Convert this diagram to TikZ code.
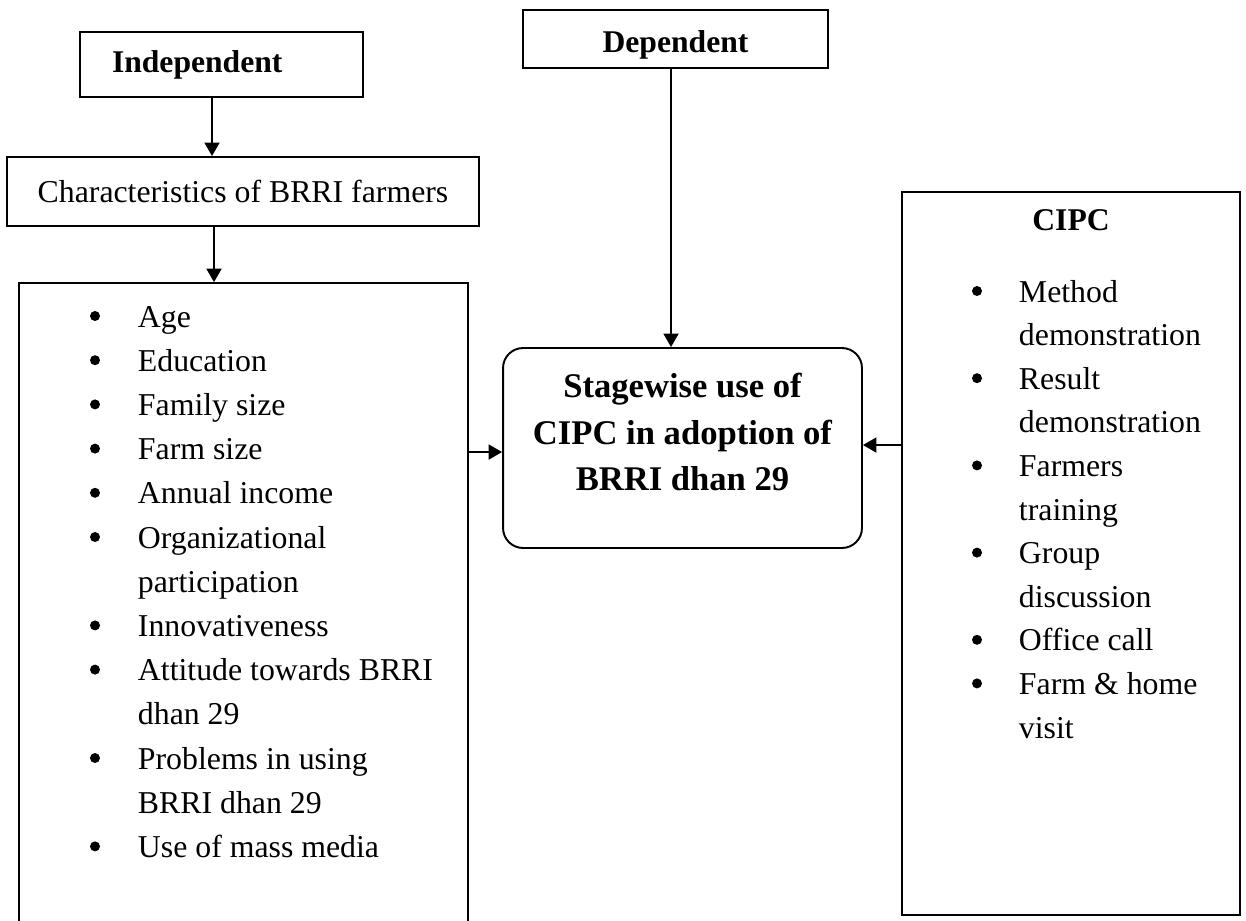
\documentclass[tikz,border=0pt]{standalone}
\usepackage{fontspec}
\setmainfont{Liberation Serif}
\usetikzlibrary{arrows.meta,positioning,calc}

\tikzset{
  box/.style={draw,rectangle,inner sep=0pt},
  head/.style={font=\fontsize{18}{22}\selectfont\bfseries},
  txt/.style={font=\fontsize{18.1}{22}\selectfont},
  item/.style={txt,anchor=base west,inner sep=0pt},
  dot/.style={circle,fill,inner sep=0pt,minimum size=0.2cm},
}

\begin{document}
\begin{tikzpicture}[x=0.02cm,y=-0.02cm,line width=1.1pt,>={Triangle[length=0.27cm,width=0.3cm]}]
\useasboundingbox (0,0) rectangle (1246,920);
% top boxes
\node (indep) [box,head,minimum width=5.66cm,minimum height=1.30cm,text width=4.38cm,inner xsep=0.64cm,align=left] at (221.5,64.5) {Independent};
\node (dep)   [box,head,minimum width=6.1cm,minimum height=1.16cm,text height=0.66cm] at (675.5,39) {Dependent};
\node (chars) [box,txt,minimum width=9.44cm,minimum height=1.38cm] at (243,191.5) {Characteristics of BRRI farmers};
% big boxes
\node (traits) [box,minimum width=8.98cm,minimum height=13.14cm] at (243.5,611.5) {};
\node (cipc)   [box,minimum width=6.76cm,minimum height=14.46cm] at (1071,553.5) {};
\node (cipctitle) [head,anchor=base] at (1071,230) {CIPC};
\node (stage) [box,rounded corners=0.4cm,minimum width=7.18cm,minimum height=4cm] at (682.5,448) {};
\node (stagetext) [font=\fontsize{19.7}{26.2}\selectfont\bfseries,align=center] at (682.5,432) {Stagewise use of\\CIPC in adoption of\\BRRI dhan 29};
% lists
\foreach \isbul/\txt [count=\i from 0] in {1/Age,1/Education,1/Family size,1/Farm size,1/Annual income,1/Organizational,0/participation,1/Innovativeness,1/Attitude towards BRRI,0/dhan 29,1/Problems in using,0/BRRI dhan 29,1/Use of mass media}{
  \node (trait\i) [item] at (137,{327+44.2*\i}) {\txt};
  \ifnum\isbul=1 \node (tdot\i) [dot] at (95,{316+44.2*\i}) {}; \fi
}
\foreach \isbul/\txt [count=\i from 0] in {1/Method,0/demonstration,1/Result,0/demonstration,1/Farmers,0/training,1/Group,0/discussion,1/Office call,1/Farm \& home,0/visit}{
  \node (way\i) [item] at (1018,{302+43.6*\i}) {\txt};
  \ifnum\isbul=1 \node (wdot\i) [dot] at (977,{291+43.6*\i}) {}; \fi
}
% arrows
\draw[->] ([xshift=-0.19cm]indep.south) -- ([xshift=-0.19cm]indep.south |- chars.north);
\draw[->] ([xshift=-0.58cm]chars.south) -- ([xshift=-0.58cm]chars.south |- traits.north);
\draw[->] ([xshift=-0.09cm]dep.south) -- ([xshift=-0.09cm]dep.south |- stage.north);
\draw[->] ([yshift=3.19cm]traits.east) -- ([yshift=3.19cm]traits.east -| stage.west);
\draw[->] ([yshift=2.17cm]cipc.west) -- ([yshift=2.17cm]cipc.west -| stage.east);
\end{tikzpicture}
\end{document}
